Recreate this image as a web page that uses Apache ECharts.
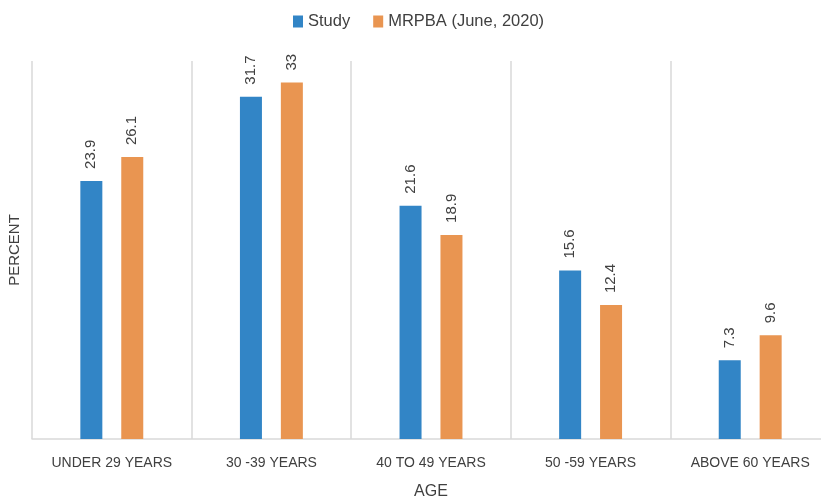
<!DOCTYPE html>
<html><head><meta charset="utf-8">
<script src="https://cdn.jsdelivr.net/npm/echarts@6/dist/echarts.min.js"></script>
<style>html,body{margin:0;padding:0;background:#fff}#c{width:821px;height:500px}</style>
</head><body><div id="c"></div>
<script>
const categories = ['UNDER 29 YEARS', '30 -39 YEARS', '40 TO 49 YEARS', '50 -59 YEARS', 'ABOVE 60 YEARS'];
const studyValues = [23.9, 31.7, 21.6, 15.6, 7.3];
const mrpbaValues = [26.1, 33, 18.9, 12.4, 9.6];
const seriesNames = ['Study', 'MRPBA (June, 2020)'];

const FONT = 'Liberation Sans, sans-serif';
const TXT = '#404040';
const chart = echarts.init(document.getElementById('c'), null, {renderer: 'canvas'});
const label = {
  show: true, position: 'top', rotate: 90, align: 'left', verticalAlign: 'middle',
  distance: 12, color: TXT, fontSize: 15, fontFamily: FONT
};
chart.setOption({
  animation: false,
  textStyle: {fontFamily: FONT},
  legend: {
    top: 8, left: 288, itemWidth: 10, itemHeight: 12, itemGap: 23,
    icon: 'rect',
    textStyle: {color: TXT, fontSize: 16.5, fontFamily: FONT},
    data: seriesNames
  },
  grid: {left: 32, top: 61, width: 798, height: 378, containLabel: false, outerBoundsMode: 'none'},
  xAxis: {
    type: 'category', data: categories,
    name: 'AGE', nameLocation: 'middle', nameGap: 45,
    nameTextStyle: {color: TXT, fontSize: 16, fontFamily: FONT},
    axisLine: {show: true, lineStyle: {color: '#d9d9d9', width: 1.5}},
    axisTick: {show: false},
    axisLabel: {color: TXT, fontSize: 14, margin: 17, fontFamily: FONT},
    splitLine: {show: true, lineStyle: {color: '#d9d9d9', width: 1.5}}
  },
  yAxis: {
    type: 'value', min: 0, max: 35,
    name: 'PERCENT', nameLocation: 'middle', nameGap: 10, nameRotate: 90,
    nameTextStyle: {color: TXT, fontSize: 15, fontFamily: FONT},
    axisLine: {show: false}, axisTick: {show: false},
    axisLabel: {show: false}, splitLine: {show: false}
  },
  series: [
    {name: seriesNames[0], type: 'bar', data: studyValues, barWidth: 22, barGap: '86%',
     itemStyle: {color: '#3285c6'}, label: label},
    {name: seriesNames[1], type: 'bar', data: mrpbaValues, barWidth: 22,
     itemStyle: {color: '#e99551'}, label: label}
  ]
});
</script></body></html>
